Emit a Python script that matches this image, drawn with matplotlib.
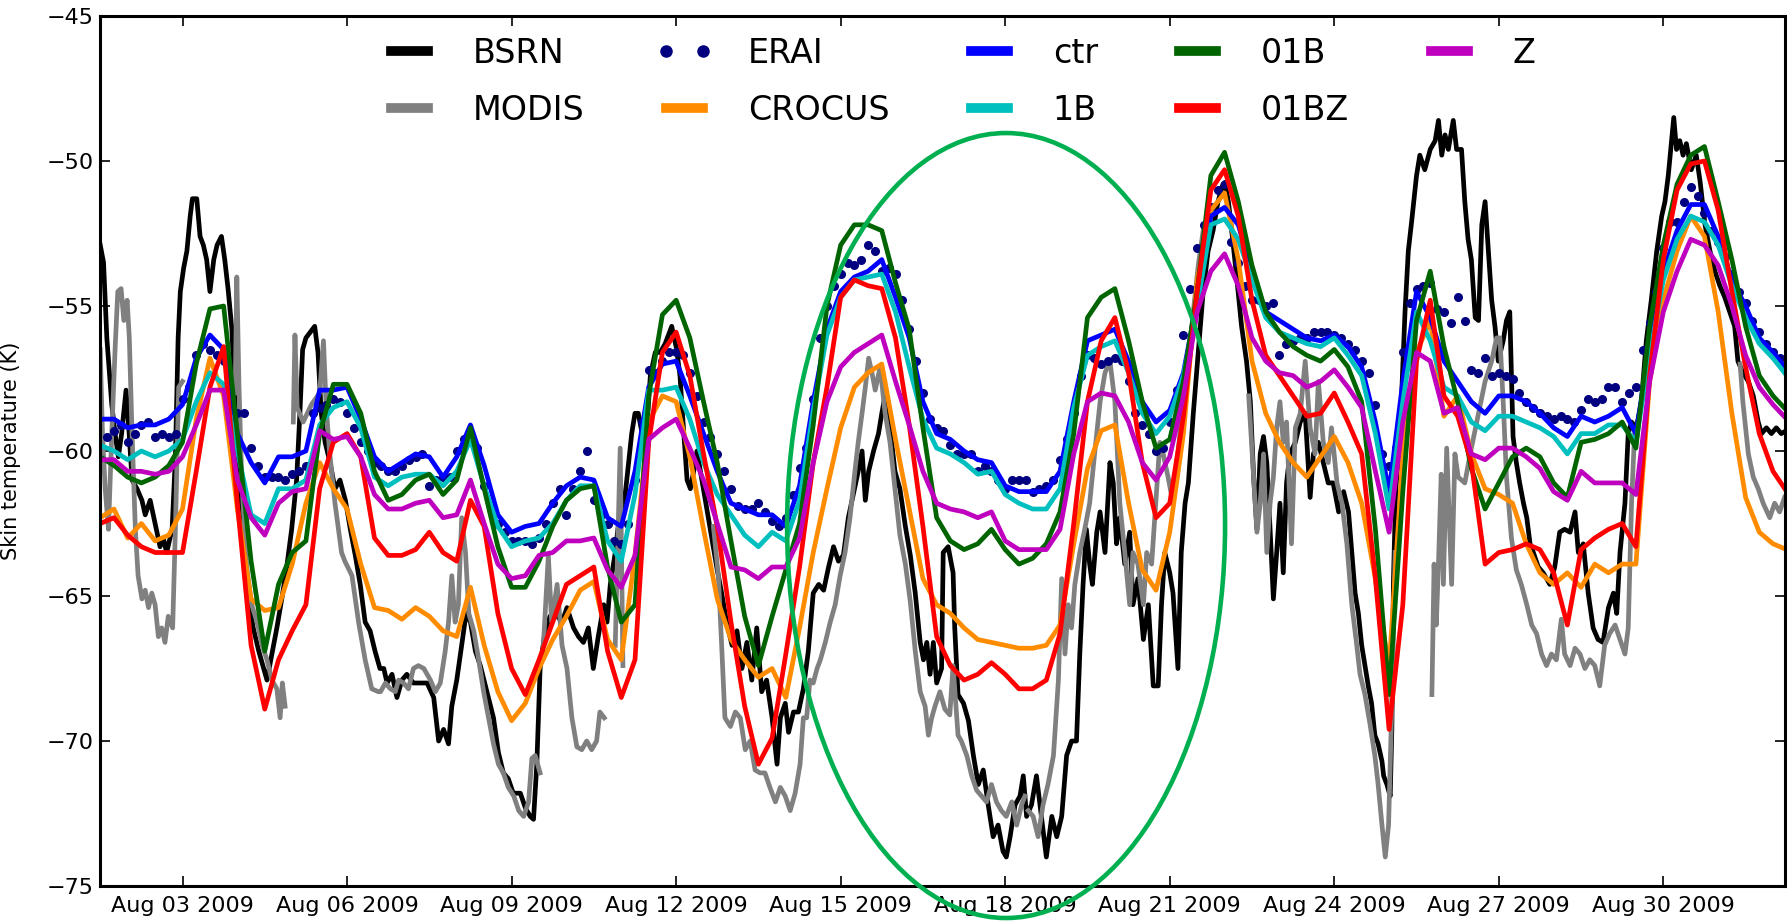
import numpy as np
import pandas as pd
import matplotlib
matplotlib.use('Agg')
import matplotlib.pyplot as plt
import matplotlib.dates as mdates
from matplotlib.patches import Ellipse

start = pd.Timestamp('2009-08-01')

# model runs, 6-hourly from Aug 01 12:00
ctr = [-58.9, -58.9, -59.2, -59.1, -59.1, -58.9, -58.4, -56.8,
       -56.0, -56.5, -59.4, -60.4, -61.1, -60.2, -60.2, -60.0,
       -57.9, -57.9, -57.8, -58.9, -60.2, -60.7, -60.4, -60.1,
       -60.2, -60.9, -60.2, -59.1, -60.5, -62.2, -62.8, -62.6,
       -62.5, -61.8, -61.2, -60.9, -61.0, -62.3, -62.6, -60.7,
       -57.8, -57.0, -56.9, -58.1, -59.4, -60.7, -61.8, -62.0,
       -62.2, -62.2, -62.6, -61.2, -58.3, -55.8, -54.5, -54.0,
       -53.8, -53.4, -54.7, -56.1, -58.3, -59.4, -59.6, -60.0,
       -60.3, -60.4, -61.2, -61.4, -61.4, -61.4, -60.7, -58.3,
       -56.2, -56.0, -55.8, -56.9, -58.3, -59.0, -58.6, -57.3,
       -54.8, -51.9, -51.6, -52.2, -53.8, -55.2, -55.5, -55.8,
       -56.1, -56.2, -56.0, -56.4, -57.1, -59.0, -61.4, -57.6,
       -54.5, -55.4, -56.9, -57.6, -58.3, -58.7, -58.1, -58.1,
       -58.3, -58.7, -59.2, -59.5, -58.8, -59.0, -58.8, -58.5,
       -59.4, -56.4, -53.8, -52.4, -51.5, -51.5, -52.6, -54.1,
       -55.0, -56.1, -56.6, -57.2]

run_1b = [-59.8, -60.0, -60.3, -60.0, -60.2, -60.0, -59.6, -58.3,
          -57.3, -57.7, -60.0, -62.2, -62.5, -61.3, -61.3, -61.0,
          -59.1, -58.5, -58.3, -59.2, -60.9, -61.2, -60.9, -60.8,
          -60.8, -61.2, -60.7, -59.6, -61.2, -62.6, -63.3, -63.1,
          -63.0, -62.5, -61.7, -61.2, -61.2, -63.1, -63.8, -61.5,
          -57.9, -57.9, -57.8, -58.9, -60.4, -61.5, -62.2, -62.9,
          -63.3, -62.8, -63.1, -61.7, -58.6, -56.0, -54.7, -54.1,
          -54.0, -53.9, -55.2, -57.1, -58.9, -59.9, -60.1, -60.4,
          -60.8, -60.7, -61.5, -61.8, -62.0, -62.0, -61.3, -58.5,
          -56.7, -56.4, -56.2, -57.3, -58.7, -59.4, -58.8, -57.4,
          -55.0, -52.2, -52.0, -52.7, -54.1, -55.4, -55.9, -56.1,
          -56.3, -56.4, -56.1, -56.7, -57.4, -59.4, -62.0, -58.3,
          -55.2, -56.2, -57.8, -58.1, -59.0, -59.3, -58.8, -58.8,
          -59.0, -59.2, -59.5, -60.1, -59.4, -59.4, -59.1, -59.1,
          -59.7, -56.7, -54.1, -52.7, -51.9, -52.1, -52.9, -54.3,
          -55.4, -56.3, -56.8, -57.4]

run_01b = [-60.2, -60.5, -60.9, -61.1, -60.9, -60.5, -59.7, -57.0,
           -55.1, -55.0, -59.4, -63.8, -66.9, -64.6, -63.5, -63.1,
           -59.4, -57.7, -57.7, -58.7, -60.7, -61.7, -61.5, -61.0,
           -60.8, -61.5, -61.0, -59.2, -61.3, -63.3, -64.7, -64.7,
           -63.8, -62.6, -61.7, -61.3, -61.2, -64.0, -65.9, -65.3,
           -58.1, -55.3, -54.8, -56.1, -58.3, -60.4, -63.1, -65.7,
           -67.4, -65.7, -64.1, -62.5, -59.1, -55.0, -52.9, -52.2,
           -52.2, -52.4, -54.2, -55.8, -59.2, -62.3, -63.1, -63.4,
           -63.2, -62.7, -63.4, -63.9, -63.7, -63.2, -62.1, -59.4,
           -55.4, -54.7, -54.4, -56.2, -58.3, -59.9, -59.6, -57.6,
           -54.5, -50.5, -49.7, -51.4, -53.6, -55.2, -55.9, -56.4,
           -56.7, -56.9, -56.5, -57.1, -58.3, -62.7, -68.4, -61.4,
           -55.5, -53.8, -56.4, -58.3, -60.6, -62.0, -61.1, -60.2,
           -59.9, -60.2, -61.1, -61.6, -59.7, -59.6, -59.4, -59.0,
           -59.9, -55.7, -52.9, -50.8, -49.8, -49.5, -51.4, -53.4,
           -55.7, -57.4, -58.1, -58.6]

run_01bz = [-62.5, -62.3, -62.9, -63.3, -63.5, -63.5, -63.5, -60.7,
            -57.8, -56.4, -61.8, -66.7, -68.9, -67.2, -66.2, -65.3,
            -61.3, -59.7, -59.4, -60.2, -63.0, -63.6, -63.6, -63.4,
            -62.8, -63.5, -63.8, -61.7, -62.6, -65.6, -67.5, -68.4,
            -67.2, -65.9, -64.6, -64.3, -64.0, -66.9, -68.5, -67.2,
            -59.7, -56.6, -55.9, -57.4, -60.1, -62.6, -65.9, -68.8,
            -70.8, -69.9, -67.0, -64.0, -60.4, -57.8, -54.7, -54.1,
            -54.3, -54.4, -56.1, -59.1, -62.6, -66.4, -67.4, -67.9,
            -67.7, -67.3, -67.7, -68.2, -68.2, -67.9, -66.3, -62.5,
            -58.3, -56.2, -55.4, -57.3, -60.4, -62.3, -61.8, -58.8,
            -54.5, -51.0, -50.3, -51.9, -54.8, -56.7, -57.4, -58.1,
            -58.8, -58.7, -58.0, -59.0, -60.1, -64.4, -69.6, -65.3,
            -56.9, -54.8, -58.1, -58.8, -60.4, -63.9, -63.5, -63.4,
            -63.2, -63.4, -64.2, -66.0, -63.4, -63.0, -62.7, -62.5,
            -63.3, -57.4, -53.4, -51.0, -50.1, -50.0, -51.7, -54.5,
            -57.1, -59.4, -60.7, -61.4]

run_z = [-60.3, -60.3, -60.7, -60.7, -60.8, -60.7, -60.2, -59.1,
         -57.9, -57.9, -61.0, -62.3, -62.9, -61.8, -61.4, -61.3,
         -59.3, -59.6, -59.5, -60.2, -61.5, -62.0, -62.0, -61.8,
         -61.7, -62.3, -62.2, -61.0, -62.5, -63.9, -64.4, -64.3,
         -63.6, -63.5, -63.1, -63.1, -63.0, -64.1, -64.7, -63.6,
         -59.6, -59.2, -58.9, -59.9, -61.0, -62.5, -64.0, -64.1,
         -64.4, -64.0, -64.0, -63.0, -60.4, -58.3, -57.1, -56.6,
         -56.3, -56.0, -57.6, -59.1, -60.7, -61.8, -62.0, -62.1,
         -62.3, -62.1, -63.1, -63.4, -63.4, -63.4, -62.7, -60.1,
         -58.3, -58.0, -58.1, -59.0, -60.4, -61.0, -60.2, -58.1,
         -55.2, -53.8, -53.2, -54.3, -56.1, -56.9, -57.3, -57.4,
         -57.8, -57.6, -57.2, -57.8, -58.5, -60.7, -62.8, -59.0,
         -56.6, -56.9, -58.7, -58.5, -60.1, -60.3, -59.9, -59.9,
         -60.2, -60.6, -61.4, -61.7, -60.7, -61.1, -61.1, -61.1,
         -61.5, -57.6, -55.2, -53.8, -52.7, -52.9, -53.6, -55.0,
         -56.7, -57.8, -58.4, -58.9]

crocus = [-62.3, -62.0, -63.0, -62.5, -63.1, -62.9, -62.0, -58.9,
          -56.8, -58.1, -62.0, -65.1, -65.5, -65.4, -63.9, -61.8,
          -60.4, -61.3, -62.0, -63.9, -65.4, -65.5, -65.8, -65.4,
          -65.7, -66.2, -66.4, -64.7, -66.7, -68.3, -69.3, -68.7,
          -67.5, -66.5, -65.7, -64.8, -64.5, -66.5, -67.2, -63.6,
          -59.0, -58.1, -58.3, -60.2, -62.7, -65.1, -66.5, -67.2,
          -67.8, -67.5, -68.5, -66.1, -63.5, -61.3, -59.2, -57.8,
          -57.3, -57.0, -59.6, -62.0, -64.4, -65.3, -65.6, -66.1,
          -66.5, -66.6, -66.7, -66.8, -66.8, -66.7, -66.0, -63.2,
          -60.6, -59.3, -59.1, -61.8, -64.1, -64.8, -62.8, -59.4,
          -54.1, -51.7, -51.1, -53.4, -56.9, -58.7, -59.7, -60.4,
          -60.9, -60.2, -59.5, -60.4, -61.8, -64.4, -67.5, -60.1,
          -56.6, -55.5, -58.8, -58.1, -60.1, -61.3, -61.5, -61.8,
          -63.2, -64.2, -64.6, -64.2, -64.7, -63.9, -64.2, -63.9,
          -63.9, -57.6, -54.8, -53.1, -51.9, -52.6, -55.2, -58.7,
          -61.6, -62.8, -63.2, -63.4]

# ERA-Interim, 3-hourly from Aug 01 15:00
erai = [-59.5, -59.3, -59.1, -59.7, -59.4, -59.1, -59.0, -59.5,
        -59.4, -59.5, -59.4, -58.2, -57.8, -56.7, -56.3, -56.5,
        -56.7, -56.9, -58.5, -58.7, -58.7, -59.9, -60.5, -60.9,
        -60.9, -60.9, -61.0, -60.8, -60.7, -60.5, -58.7, -58.5,
        -58.4, -58.2, -58.3, -58.7, -59.2, -59.7, -60.0, -60.4,
        -60.5, -60.7, -60.7, -60.5, -60.3, -60.2, -60.1, -61.2,
        -61.0, -60.9, -60.9, -60.0, -59.6, -59.5, -59.9, -61.2,
        -62.0, -62.5, -62.8, -63.1, -63.1, -63.1, -63.2, -63.0,
        -62.5, -61.8, -61.3, -62.2, -61.3, -60.7, -60.0, -61.7,
        -62.2, -62.5, -63.1, -63.2, -62.5, -61.0, -59.0, -57.2,
        -57.3, -56.9, -56.6, -56.6, -56.7, -57.3, -58.1, -59.0,
        -59.5, -60.1, -60.7, -61.3, -61.9, -62.0, -62.0, -61.8,
        -62.1, -62.4, -62.6, -62.3, -61.5, -60.6, -59.9, -58.2,
        -56.1, -55.0, -54.3, -53.9, -53.5, -53.6, -53.4, -52.9,
        -53.1, -53.8, -53.7, -53.9, -54.8, -55.8, -56.9, -58.0,
        -58.9, -59.2, -59.3, -59.8, -60.1, -60.1, -60.1, -60.7,
        -60.5, -60.7, -61.0, -61.3, -61.0, -61.0, -61.0, -61.4,
        -61.3, -61.2, -61.0, -60.3, -59.6, -58.7, -57.4, -56.7,
        -56.8, -57.0, -56.9, -56.8, -56.9, -57.6, -58.7, -59.1,
        -59.4, -60.0, -59.9, -59.0, -57.9, -56.0, -54.4, -53.0,
        -52.2, -51.6, -51.0, -50.8, -52.8, -53.5, -54.3, -54.8,
        -54.8, -55.0, -54.9, -56.7, -56.3, -56.2, -56.1, -56.1,
        -55.9, -55.9, -55.9, -56.0, -56.1, -56.3, -56.5, -56.9,
        -57.3, -58.4, -60.1, -60.5, -59.9, -56.6, -54.9, -54.4,
        -54.3, -54.2, -55.1, -55.2, -55.6, -54.7, -55.5, -57.2,
        -57.3, -56.8, -57.4, -57.3, -57.4, -57.5, -58.0, -58.3,
        -58.5, -58.7, -58.8, -58.9, -58.8, -58.9, -59.0, -58.6,
        -58.2, -58.3, -58.2, -57.8, -57.8, -58.3, -58.0, -57.8,
        -56.5, -55.6, -54.5, -53.0, -52.1, -52.1, -51.4, -50.9,
        -51.2, -51.8, -52.4, -52.8, -53.3, -53.9, -54.5, -54.9,
        -55.5, -55.9, -56.3, -56.6, -56.8, -57.0]

# BSRN station record (day of August, value)
bsrn_day = [0.50, 0.56, 0.62, 0.71, 0.77, 0.83, 0.89, 0.97, 1.02, 1.08, 1.17, 1.26, 1.32, 1.41,
            1.50, 1.59, 1.65, 1.71, 1.81, 1.87, 1.92, 1.96, 2.02, 2.08, 2.14, 2.18, 2.26, 2.32,
            2.38, 2.44, 2.50, 2.57, 2.63, 2.71, 2.77, 2.83, 2.90, 2.96, 3.02, 3.11, 3.20, 3.29,
            3.39, 3.48, 3.54, 3.63, 3.72, 3.81, 3.90, 3.99, 4.08, 4.14, 4.19, 4.25, 4.33, 4.41,
            4.47, 4.53, 4.60, 4.69, 4.78, 4.87, 4.97, 5.06, 5.15, 5.24, 5.33, 5.42, 5.51, 5.60,
            5.67, 5.73, 5.82, 5.91, 6.00, 6.09, 6.21, 6.33, 6.46, 6.58, 6.67, 6.76, 6.85, 6.91,
            7.00, 7.09, 7.17, 7.25, 7.34, 7.43, 7.55, 7.67, 7.76, 7.85, 7.94, 8.03, 8.16, 8.25,
            8.34, 8.40, 8.46, 8.52, 8.61, 8.70, 8.79, 8.92, 9.01, 9.13, 9.22, 9.31, 9.40, 9.49,
            9.58, 9.68, 9.74, 9.80, 9.89, 9.95, 10.01, 10.10, 10.19, 10.25, 10.31, 10.38, 10.47,
            10.53, 10.62, 10.71, 10.80, 10.92, 11.01, 11.07, 11.14, 11.20, 11.26, 11.32, 11.38,
            11.47, 11.56, 11.65, 11.74, 11.83, 11.92, 12.02, 12.11, 12.20, 12.29, 12.38, 12.47,
            12.56, 12.65, 12.75, 12.84, 12.90, 12.99, 13.05, 13.14, 13.23, 13.32, 13.41, 13.50,
            13.60, 13.69, 13.78, 13.87, 13.96, 14.05, 14.14, 14.23, 14.32, 14.39, 14.45, 14.51,
            14.60, 14.69, 14.75, 14.81, 14.87, 14.93, 14.99, 15.08, 15.18, 15.27, 15.36, 15.45,
            15.51, 15.57, 15.63, 15.69, 15.75, 15.84, 15.87, 15.96, 16.05, 16.08, 16.14, 16.24,
            16.33, 16.42, 16.51, 16.60, 16.69, 16.78, 16.87, 16.96, 17.02, 17.09, 17.18, 17.27,
            17.33, 17.39, 17.48, 17.57, 17.66, 17.75, 17.85, 17.94, 18.03, 18.12, 18.21, 18.30,
            18.36, 18.42, 18.48, 18.54, 18.59, 18.67, 18.73, 18.82, 18.91, 18.97, 19.03, 19.09,
            19.18, 19.27, 19.33, 19.42, 19.52, 19.61, 19.70, 19.79, 19.85, 19.91, 20.00, 20.06,
            20.15, 20.21, 20.28, 20.34, 20.43, 20.52, 20.61, 20.70, 20.79, 20.88, 20.97, 21.01,
            21.07, 21.13, 21.22, 21.31, 21.40, 21.47, 21.53, 21.59, 21.65, 21.71, 21.77, 21.83,
            21.89, 21.95, 22.01, 22.07, 22.13, 22.19, 22.29, 22.38, 22.47, 22.56, 22.62, 22.71,
            22.80, 22.89, 22.98, 23.08, 23.17, 23.26, 23.32, 23.38, 23.44, 23.50, 23.56, 23.62,
            23.68, 23.74, 23.80, 23.87, 23.90, 23.96, 24.02, 24.05, 24.08, 24.12, 24.17, 24.23,
            24.29, 24.35, 24.41, 24.50, 24.56, 24.65, 24.75, 24.84, 24.90, 24.96, 25.02, 25.08,
            25.17, 25.23, 25.32, 25.38, 25.44, 25.50, 25.57, 25.63, 25.69, 25.75, 25.81, 25.87,
            25.93, 25.99, 26.08, 26.14, 26.20, 26.26, 26.32, 26.38, 26.45, 26.51, 26.57, 26.63,
            26.72, 26.81, 26.93, 27.02, 27.11, 27.20, 27.30, 27.39, 27.45, 27.54, 27.63, 27.72,
            27.81, 27.90, 28.00, 28.09, 28.15, 28.21, 28.30, 28.36, 28.42, 28.51, 28.60, 28.69,
            28.78, 28.88, 28.97, 29.03, 29.09, 29.15, 29.19, 29.24, 29.30, 29.36, 29.42, 29.51,
            29.60, 29.67, 29.76, 29.85, 29.94, 30.03, 30.12, 30.21, 30.30, 30.36, 30.45, 30.55,
            30.64, 30.73, 30.79, 30.88, 30.97, 31.06, 31.15, 31.24]
bsrn = [-52.9, -53.5, -56.1, -58.4, -59.4, -60.2, -59.4, -57.9, -59.2, -61.0, -61.3, -61.7, -62.2, -61.7,
        -62.5, -63.3, -63.0, -63.5, -62.7, -60.2, -56.1, -54.5, -53.7, -53.1, -51.9, -51.3, -51.3, -52.6,
        -52.9, -53.4, -54.5, -53.4, -52.9, -52.6, -53.4, -54.4, -55.8, -58.4, -61.0, -63.5, -65.1, -66.1,
        -66.9, -67.5, -67.9, -67.0, -66.1, -65.1, -64.0, -62.7, -61.0, -58.7, -56.5, -56.1, -55.9, -55.7,
        -56.6, -58.7, -59.7, -60.4, -61.3, -61.0, -61.7, -62.7, -63.6, -64.6, -65.9, -66.2, -66.9, -67.5,
        -67.5, -68.0, -67.7, -68.5, -67.9, -67.7, -68.0, -68.0, -68.0, -68.5, -70.0, -69.6, -70.1, -68.8,
        -67.9, -66.7, -65.6, -65.9, -66.9, -67.4, -68.3, -69.2, -70.4, -71.1, -71.3, -71.8, -71.8, -72.3,
        -72.6, -72.7, -70.8, -67.5, -66.2, -65.7, -65.6, -65.9, -65.4, -66.1, -66.4, -66.6, -66.1, -67.5,
        -66.4, -65.3, -65.9, -64.6, -63.5, -62.5, -62.5, -61.0, -59.4, -58.7, -58.7, -59.4, -59.1,
        -57.4, -56.6, -56.6, -56.3, -55.7, -56.5, -57.4, -59.4, -61.0, -61.3, -60.7, -60.0,
        -61.0, -62.0, -63.0, -64.0, -64.9, -65.9, -66.7, -66.2, -67.5, -66.6, -67.9, -66.1,
        -68.3, -67.9, -69.2, -70.8, -69.2, -68.7, -69.7, -69.0, -69.0, -68.2, -66.9, -64.9,
        -64.6, -64.8, -64.0, -63.3, -63.8, -63.6, -62.3, -61.5, -60.7, -60.0, -61.7, -60.7,
        -60.0, -59.4, -58.7, -58.1, -58.7, -59.7, -60.7, -61.3, -62.6, -63.6, -64.9, -66.6,
        -67.2, -66.6, -67.7, -66.6, -68.0, -67.5, -63.5, -63.3, -64.2, -66.1, -68.4, -68.7,
        -69.3, -70.5, -71.5, -71.0, -72.2, -73.3, -72.9, -73.8, -74.0, -73.3, -72.2, -71.9,
        -71.2, -72.6, -72.2, -71.2, -72.6, -74.0, -72.6, -73.3, -72.6, -70.5, -70.0, -70.0,
        -67.0, -64.6, -62.7, -63.9, -64.6, -62.8, -62.1, -63.5, -60.4, -61.1, -63.2, -62.3,
        -63.9, -62.8, -65.3, -64.4, -66.5, -65.3, -68.1, -68.1, -65.3, -63.5, -64.2, -64.9,
        -67.5, -63.5, -61.8, -61.1, -58.7, -56.6, -54.5, -53.1, -52.4, -51.4, -50.8, -50.8,
        -51.4, -52.4, -54.0, -55.7, -56.9, -58.3, -60.9, -62.7, -60.1, -59.5, -60.4, -62.7,
        -65.1, -63.5, -61.8, -64.2, -61.1, -60.1, -59.7, -59.0, -58.7, -61.6, -60.1, -59.7,
        -60.4, -61.1, -61.1, -62.1, -61.4, -62.1, -63.5, -64.9, -65.6, -66.7, -67.4, -68.1,
        -68.7, -69.8, -70.1, -70.7, -71.2, -71.5, -71.9, -69.6, -64.4, -61.4, -60.1, -58.0,
        -55.2, -53.1, -52.1, -50.5, -49.8, -50.3, -49.6, -49.3, -48.6, -49.8, -49.1, -49.6,
        -48.6, -49.6, -49.6, -51.4, -52.7, -53.4, -55.4, -55.5, -52.2, -51.4, -53.1, -54.8,
        -55.7, -56.9, -56.2, -55.5, -55.2, -59.5, -60.4, -61.1, -61.8, -62.3, -63.2, -63.5,
        -64.0, -64.2, -64.6, -64.0, -62.8, -62.7, -62.8, -62.1, -63.5, -63.2, -64.9, -66.1,
        -66.5, -66.6, -65.4, -64.9, -65.6, -63.5, -61.8, -59.4, -59.0, -59.2, -58.3, -56.2,
        -54.8, -53.1, -51.9, -51.4, -50.5, -49.3, -48.5, -49.6, -49.3, -49.8, -49.4, -50.3,
        -49.8, -50.7, -52.2, -53.1, -53.8, -54.3, -54.7, -55.2, -55.7, -56.9, -57.3, -57.6,
        -58.1, -59.0, -59.4, -59.2, -59.4, -59.2, -59.4, -59.3]

# MODIS land surface temperature (day of August, value); nan marks missing swaths
modis_day = [0.50, 0.54, 0.59, 0.65, 0.71, 0.77, 0.82, 0.88, 0.93, 0.99, 1.03, 1.08, 1.14, 1.19,
             1.26, 1.32, 1.38, 1.44, 1.50, 1.56, 1.62, 1.68, 1.74, 1.82, 1.87, 1.93, 2.00, 2.40,
             2.96, 2.99, 3.03, 3.08, 3.17, 3.26, 3.36, 3.45, 3.54, 3.63, 3.72, 3.78, 3.82, 3.87,
             3.95, 4.02, 4.05, 4.09, 4.20, 4.35, 4.50, 4.57, 4.62, 4.68, 4.78, 4.90, 4.96, 5.09,
             5.21, 5.33, 5.45, 5.57, 5.61, 5.70, 5.79, 5.88, 5.94, 6.03, 6.12, 6.21, 6.30, 6.40,
             6.52, 6.61, 6.70, 6.79, 6.85, 6.91, 6.97, 7.03, 7.09, 7.16, 7.22, 7.31, 7.40, 7.49,
             7.58, 7.67, 7.76, 7.85, 7.94, 8.04, 8.13, 8.22, 8.31, 8.37, 8.43, 8.52, 8.55, 8.58,
             8.67, 8.73, 8.83, 8.92, 9.01, 9.10, 9.19, 9.28, 9.37, 9.46, 9.55, 9.61, 9.69, 9.80,
             9.89, 9.98, 10.03, 10.90,
             11.68, 11.77, 11.83, 11.89, 11.99, 12.08, 12.17, 12.26, 12.35, 12.44, 12.53, 12.62,
             12.71, 12.81, 12.90, 12.99, 13.08, 13.17, 13.26, 13.32, 13.38, 13.44, 13.50, 13.57,
             13.63, 13.72, 13.81, 13.90, 13.99, 14.08, 14.17, 14.26, 14.32, 14.39, 14.45, 14.51,
             14.57, 14.63, 14.72, 14.81, 14.90, 14.99, 15.08, 15.18, 15.27, 15.36, 15.45, 15.54,
             15.60, 15.66, 15.72, 15.81, 15.90, 15.99, 16.05, 16.14, 16.20, 16.30, 16.39, 16.48,
             16.57, 16.66, 16.75, 16.84, 16.93, 17.02, 17.12, 17.21, 17.30, 17.36, 17.39, 17.42,
             17.51, 17.60, 17.69, 17.78, 17.88, 17.97, 18.03, 18.09, 18.15, 18.21, 18.27, 18.36,
             18.45, 18.54, 18.63, 18.73, 18.82, 18.91, 19.00, 19.09, 19.18, 19.27, 19.33, 19.42,
             19.52, 19.58, 19.67, 19.76, 19.82, 19.88, 19.97, 20.06, 20.15, 20.24, 20.34, 20.43,
             20.52, 20.61, 20.70, 21.00,
             21.44, 21.53, 21.59, 21.65, 21.71, 21.77, 21.83, 21.89, 21.95, 22.01, 22.07, 22.13,
             22.22, 22.29, 22.38, 22.47, 22.56, 22.65, 22.71, 22.80, 22.89, 22.95, 23.05, 23.14,
             23.23, 23.32, 23.41, 23.47, 23.56, 23.65, 23.74, 23.80, 23.87, 23.93, 23.99, 24.05,
             24.11, 24.40,
             24.78, 24.82, 24.86, 24.90, 24.95, 24.99, 25.05, 25.14, 25.20, 25.26, 25.38, 25.50,
             25.63, 25.75, 25.87, 25.96, 26.02, 26.08, 26.14, 26.23, 26.32, 26.41, 26.51, 26.60,
             26.69, 26.78, 26.87, 26.96, 27.05, 27.14, 27.20, 27.30, 27.39, 27.48, 27.57, 27.66,
             27.75, 27.84, 27.93, 28.02, 28.12, 28.21, 28.30, 28.36, 28.42, 28.48, 29.00,
             30.40, 30.45, 30.55, 30.64, 30.73, 30.82, 30.94, 31.03, 31.12, 31.21]
nan = np.nan
modis = [-56.5, -59.4, -61.3, -62.7, -59.4, -56.5, -54.5, -54.4, -55.5, -54.8, -56.1, -59.4, -62.7, -64.3,
         -65.1, -64.8, -65.4, -64.9, -65.3, -66.4, -66.1, -66.6, -65.7, -66.1, -62.7, -57.8, -57.6, nan,
         -58.0, -54.0, -57.8, -61.0, -64.0, -65.3, -65.9, -66.7, -67.2, -67.9, -68.2, -69.2, -68.0, -68.8,
         nan, -59.0, -56.0, -58.5, -59.0, -58.4, -58.0, -56.2, -58.5, -60.0, -61.8, -63.5, -63.8, -64.3,
         -65.9, -67.2, -68.2, -68.3, -68.3, -68.0, -68.2, -68.3, -67.9, -68.0, -68.2, -67.5, -67.4, -67.5,
         -67.9, -68.3, -68.0, -66.9, -65.9, -64.3, -65.9, -65.3, -62.3, -63.5, -65.6, -66.2, -67.2, -68.3,
         -69.2, -70.1, -70.8, -71.1, -71.6, -71.9, -72.4, -72.6, -72.1, -70.6, -70.5, -71.1, nan, -66.7,
         -63.6, -65.9, -64.6, -66.7, -67.5, -69.2, -70.2, -70.3, -70.0, -70.3, -70.0, -69.0, -69.2, nan,
         -66.7, -59.9, -67.4, nan,
         -62.6, -64.3, -66.7, -69.2, -69.5, -69.0, -69.2, -70.3, -70.0, -71.0, -71.1, -71.1,
         -71.6, -72.1, -71.6, -71.9, -72.4, -71.8, -70.8, -69.2, -69.2, -67.9, -68.0, -67.5,
         -67.2, -66.6, -65.9, -65.3, -64.3, -63.5, -62.3, -60.7, -59.7, -58.7, -57.8, -56.8,
         -57.3, -57.9, -57.1, -58.7, -59.7, -61.3, -62.9, -63.9, -65.2, -66.9, -68.3, -68.8,
         -69.8, -69.2, -68.8, -68.3, -68.9, -69.1, -67.4, -69.8, -70.0, -70.5, -71.2, -71.7,
         -71.9, -72.1, -71.5, -72.1, -72.4, -72.6, -72.1, -72.9, -72.2, -71.9, nan, -72.4,
         -72.6, -73.3, -72.2, -71.5, -70.5, -67.9, -64.4, -67.0, -65.3, -66.1, -64.6, -63.5,
         -62.7, -61.8, -60.1, -58.3, -57.3, -56.9, -58.3, -61.8, -63.5, -65.3, -63.5, -63.9,
         -65.3, -63.5, -63.9, -61.4, -59.7, -60.1, -60.9, -61.8, -60.1, -58.3, -56.9, -55.2,
         -53.6, -52.4, -51.9, nan,
         -58.1, -60.9, -62.8, -61.8, -60.1, -63.5, -61.8, -60.9, -59.2, -58.3, -59.7, -59.0,
         -63.2, -59.2, -58.7, -56.9, -59.2, -60.1, -57.6, -59.7, -60.4, -59.2, -61.1, -61.8,
         -63.2, -65.3, -66.7, -67.7, -68.4, -69.4, -70.5, -71.5, -72.9, -74.0, -72.9, -68.7,
         -63.5, nan,
         -68.4, -63.9, -66.0, -63.9, -60.8, -64.6, -59.9, -64.6, -60.1, -60.9, -61.1, -59.9,
         -58.7, -57.6, -56.9, -56.1, -56.1, -58.3, -60.9, -63.0, -64.1, -64.6, -65.3, -66.0,
         -66.3, -67.0, -67.4, -67.0, -67.2, -65.8, -67.0, -67.4, -66.8, -67.0, -67.5, -67.2,
         -67.4, -68.1, -66.7, -66.3, -66.0, -66.5, -67.0, -66.1, -61.8, -59.2, nan,
         -57.0, -58.3, -60.1, -60.9, -61.3, -61.8, -62.3, -61.8, -62.1, -61.6]

model_time = pd.date_range('2009-08-01 12:00', periods=len(ctr), freq='6h')
erai_time = pd.date_range('2009-08-01 15:00', periods=len(erai), freq='3h')
bsrn_time = start + pd.to_timedelta(np.array(bsrn_day), unit='D')
modis_time = start + pd.to_timedelta(np.array(modis_day), unit='D')

fig = plt.figure(figsize=(17.87, 9.21), dpi=100)
ax = fig.add_axes([0.0561, 0.038, 0.9429, 0.9446])

lw = 3.4
ax.plot(bsrn_time, bsrn, color='k', lw=lw, label='BSRN')
ax.plot(modis_time, modis, color='#808080', lw=lw, label='MODIS')
ax.plot(erai_time, erai, ls='none', marker='o', ms=5.5, color='#000080', label='ERAI')
ax.plot(model_time, crocus, color='#ff8c00', lw=lw, label='CROCUS')
ax.plot(model_time, ctr, color='#0000ff', lw=lw, label='ctr')
ax.plot(model_time, run_1b, color='#00bfbf', lw=lw, label='1B')
ax.plot(model_time, run_01b, color='#006400', lw=lw, label='01B')
ax.plot(model_time, run_01bz, color='#ff0000', lw=lw, label='01BZ')
ax.plot(model_time, run_z, color='#bf00bf', lw=lw, label='Z')

ax.set_xlim(pd.Timestamp('2009-08-01 12:00'), pd.Timestamp('2009-09-01 05:20'))
ax.set_ylim(-75, -45)
ax.xaxis.set_major_locator(mdates.DayLocator(bymonthday=range(3, 31, 3)))
ax.xaxis.set_major_formatter(mdates.DateFormatter('%b %d %Y'))
ax.set_yticks(range(-75, -44, 5))

ax.tick_params(direction='in', top=True, right=True, length=7, width=1.2, labelsize=16)
ax.tick_params(axis='x', pad=7)
ax.tick_params(axis='y', pad=5)
for sp in ax.spines.values():
    sp.set_linewidth(2.2)

ax.set_ylabel('Skin temperature (K)', fontsize=15)
ax.yaxis.set_label_coords(-0.047, 0.5)

leg = ax.legend(ncol=5, loc='upper left', bbox_to_anchor=(0.2132, 0.9598),
                bbox_transform=fig.transFigure, frameon=False, fontsize=24,
                handlelength=1.7, handletextpad=1.05, columnspacing=2.15,
                labelspacing=0.72, borderpad=0, borderaxespad=0, numpoints=2)
for h in leg.get_lines():
    h.set_linewidth(7)
    h.set_markersize(8)

# highlight around the cold spell
fig.add_artist(Ellipse((0.563, 0.4294), 0.2451, 0.8523, transform=fig.transFigure,
                       fill=False, ec='#00b050', lw=3.3, zorder=10))

fig.savefig('out.png', dpi=100)
